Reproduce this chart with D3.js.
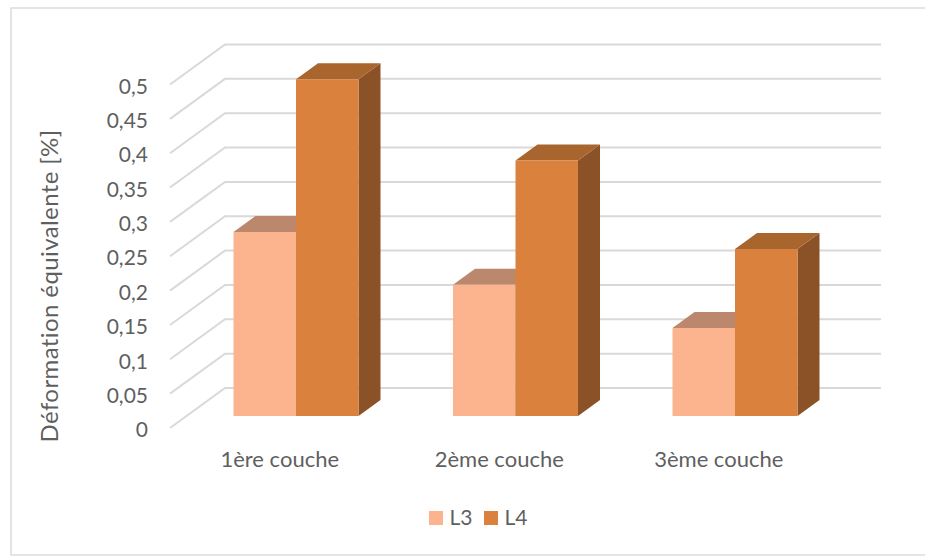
<!DOCTYPE html>
<html lang="fr">
<head>
<meta charset="UTF-8">
<title>Déformation équivalente par couche</title>
<script src="https://d3js.org/d3.v7.min.js"></script>
<style>
  html, body { margin: 0; padding: 0; background: #fff; }
  svg { display: block; }
  text { font-family: Lato, "Open Sans", sans-serif; fill: #5f5f5f; }
</style>
</head>
<body>
<script>
const categories = ["1ère couche", "2ème couche", "3ème couche"];
const seriesNames = ["L3", "L4"];
const valuesL3 = [0.268, 0.191, 0.128];
const valuesL4 = [0.49, 0.372, 0.243];
const tickValues = [0, 0.05, 0.1, 0.15, 0.2, 0.25, 0.3, 0.35, 0.4, 0.45, 0.5];

const width = 925;
const height = 556;

// faces of each box: front, top, side
const palette = {
    L3: { front: "#fbb48e", top: "#bb886e", side: "#8f6650" },
    L4: { front: "#da813d", top: "#a8652e", side: "#8a5226" }
};

const svg = d3.select("body").append("svg")
    .attr("width", width)
    .attr("height", height);

// chart frame, right edge runs off the page
svg.append("rect")
    .attr("x", 11).attr("y", 8)
    .attr("width", width).attr("height", 547)
    .attr("fill", "#fff")
    .attr("stroke", "#dcdcdc")
    .attr("stroke-width", 1.5);

// oblique projection: front floor edge plus a depth offset
const floorY = 428;
const depthX = 55;
const depthY = -40;

const x0 = d3.scaleBand().domain(categories).range([170, 828.5]);
const x1 = d3.scaleBand().domain(seriesNames).range([47, 172]);
const y = d3.scaleLinear().domain([0, 0.5]).range([0, -343.5]);

const project = (px, value, d) => [px + depthX * d, floorY + y(value) + depthY * d];
const pathOf = pts => "M" + pts.map(p => p.join(",")).join("L") + "Z";

// gridlines run along the side wall and then the back wall
const grid = svg.append("g");
grid.selectAll("path")
    .data(tickValues)
    .enter().append("path")
    .attr("fill", "none")
    .attr("stroke", "#d9d9d9")
    .attr("stroke-width", 2)
    .attr("d", v => "M" + [project(170, v, 0), project(170, v, 1), project(826, v, 1)]
        .map(p => p.join(",")).join("L"));

// y labels
const axis = d3.axisLeft(d3.scaleLinear().domain([0, 0.5]).range([floorY + 2, floorY - 341.5]))
    .tickValues(tickValues)
    .tickSize(0)
    .tickPadding(0)
    .tickFormat(d => String(d).replace(".", ","));
const yAxis = svg.append("g")
    .attr("transform", "translate(148,0)")
    .call(axis);
yAxis.select(".domain").remove();
yAxis.selectAll("text")
    .style("font-family", "Lato, 'Open Sans', sans-serif")
    .style("font-size", "21px");

// boxes, drawn category by category so L4 covers the L3 side face
const bars = [];
categories.forEach((c, i) => {
    bars.push({ category: c, series: "L3", value: valuesL3[i] });
    bars.push({ category: c, series: "L4", value: valuesL4[i] });
});

const dFront = 0.3;
const dBack = 0.7;
const box = svg.append("g").selectAll("g")
    .data(bars)
    .enter().append("g");

box.each(function(b) {
    const g = d3.select(this);
    const left = x0(b.category) + x1(b.series);
    const right = left + x1.bandwidth();
    const colors = palette[b.series];
    g.append("path")
        .attr("fill", colors.side)
        .attr("d", pathOf([
            project(right, 0, dFront), project(right, 0, dBack),
            project(right, b.value, dBack), project(right, b.value, dFront)
        ]));
    g.append("path")
        .attr("fill", colors.top)
        .attr("d", pathOf([
            project(left, b.value, dFront), project(right, b.value, dFront),
            project(right, b.value, dBack), project(left, b.value, dBack)
        ]));
    g.append("path")
        .attr("fill", colors.front)
        .attr("d", pathOf([
            project(left, 0, dFront), project(right, 0, dFront),
            project(right, b.value, dFront), project(left, b.value, dFront)
        ]));
});

// category labels
svg.append("g").selectAll("text")
    .data(categories)
    .enter().append("text")
    .attr("x", d => x0(d) + x0.bandwidth() / 2)
    .attr("y", 467)
    .attr("text-anchor", "middle")
    .attr("font-size", 22)
    .text(d => d);

// axis title
svg.append("text")
    .attr("transform", "translate(58,286) rotate(-90)")
    .attr("text-anchor", "middle")
    .attr("font-size", 24)
    .attr("letter-spacing", 0.4)
    .text("Déformation équivalente [%]");

// legend
const legendX = d3.scaleOrdinal().domain(seriesNames).range([429, 484]);
const legend = svg.append("g").selectAll("g")
    .data(seriesNames)
    .enter().append("g")
    .attr("transform", d => `translate(${legendX(d)},511)`);
legend.append("rect")
    .attr("width", 14).attr("height", 14)
    .attr("fill", d => palette[d].front);
legend.append("text")
    .attr("x", 20.5).attr("y", 13.5)
    .attr("font-size", 21)
    .text(d => d);
</script>
</body>
</html>
